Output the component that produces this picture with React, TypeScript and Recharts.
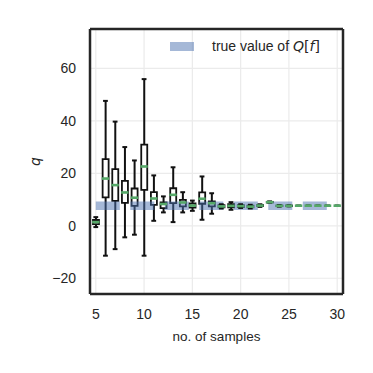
import React from 'react';
import { ComposedChart, Bar, Scatter, Line, XAxis, YAxis, CartesianGrid, Legend } from 'recharts';

// number of samples per estimate
const samples = [5, 6, 7, 8, 9, 10, 11, 12, 13, 14, 15, 16, 17, 18, 19, 20, 21, 22, 23, 24, 25, 26, 27, 28, 29, 30];
const lowerWhisker = [-0.5, -11.4, -8.9, -4.4, -3.4, -11.4, 1.9, 5.1, 1.4, 5.1, 5.7, 2.3, 4.6, 6.6, 6.1, 6.8, 6.6, 7.2, 8.8, 7.3, 7.4, 7.66, 7.66, 7.66, 7.66, 7.66];
const lowerQuartile = [0.6, 10.8, 9.5, 8.7, 7.6, 13.7, 8.0, 6.7, 8.6, 7.4, 6.9, 8.4, 7.4, 7.0, 7.0, 7.1, 7.0, 7.5, 8.9, 7.5, 7.5, 7.66, 7.66, 7.66, 7.66, 7.66];
const medians = [1.4, 18.0, 15.5, 12.7, 10.7, 22.6, 10.4, 8.3, 11.8, 8.9, 7.7, 10.3, 8.6, 7.4, 7.6, 7.5, 7.3, 7.7, 9.0, 7.6, 7.6, 7.66, 7.66, 7.66, 7.66, 7.66];
const upperQuartile = [2.2, 25.4, 21.6, 17.1, 14.2, 30.9, 12.8, 8.9, 14.3, 9.9, 8.5, 12.7, 9.3, 7.9, 8.2, 7.9, 7.7, 7.9, 9.1, 7.7, 7.7, 7.66, 7.66, 7.66, 7.66, 7.66];
const upperWhisker = [3.3, 47.6, 39.7, 30.0, 24.9, 55.9, 19.2, 11.2, 22.3, 12.8, 9.6, 18.8, 12.4, 8.2, 9.0, 8.2, 8.0, 8.2, 9.3, 7.9, 7.8, 7.66, 7.66, 7.66, 7.66, 7.66];

const trueValue = 7.66;
const truthRange = [5, 30];
const xTicks = [5, 10, 15, 20, 25, 30];
const yTicks = [-20, 0, 20, 40, 60];

const data = samples.map((n, i) => ({
  n,
  lo: lowerWhisker[i],
  med: medians[i],
  hi: upperWhisker[i],
  box: [lowerQuartile[i], upperQuartile[i]],
  whisker: [lowerWhisker[i], upperWhisker[i]],
}));

const truth = truthRange.map((n) => ({ n, t: trueValue }));

const FONT = '"Liberation Sans", Arial, sans-serif';
const MATH = '"DejaVu Sans", sans-serif';
const FRAME = '#262626';
const GREEN = '#55a868';

const Cap = (props: any) => {
  const { cx, cy } = props;
  return <line x1={cx - 2.4} x2={cx + 2.4} y1={cy} y2={cy} stroke="#111" strokeWidth={2} />;
};

const Median = (props: any) => {
  const { cx, cy } = props;
  return <line x1={cx - 3.7} x2={cx + 3.7} y1={cy} y2={cy} stroke={GREEN} strokeWidth={2.6} />;
};

const LegendBox = () => (
  <div style={{ display: 'flex', alignItems: 'center', fontFamily: FONT, fontSize: 14, color: '#262626', whiteSpace: 'nowrap' }}>
    <span style={{ display: 'inline-block', width: 24, height: 9, background: '#4c72b0', opacity: 0.5 }} />
    <span style={{ marginLeft: 18 }}>
      true value of{' '}
      <span style={{ fontFamily: MATH }}>
        <i>Q</i>[<i>f</i>]
      </span>
    </span>
  </div>
);

const fmt = (v: number) => (v < 0 ? '\u2212' + Math.abs(v) : String(v));

export default function App() {
  return (
    <div style={{ position: 'absolute', left: 0, top: 0, background: '#fff' }}>
      <ComposedChart width={373} height={373} data={data} margin={{ top: 28, right: 29, bottom: 49, left: 30 }}>
        <CartesianGrid stroke="#ebebeb" strokeWidth={1.2} />
        <XAxis
          dataKey="n"
          type="number"
          domain={[4.4, 30.6]}
          allowDataOverflow
          ticks={xTicks}
          height={30}
          tickLine={false}
          tickMargin={9}
          axisLine={{ stroke: FRAME, strokeWidth: 2.5 }}
          tick={{ fill: '#262626', fontSize: 14, fontFamily: FONT }}
          label={({ viewBox }: any) => (
            <text x={viewBox.x + viewBox.width / 2} y={viewBox.y + 42} textAnchor="middle" dominantBaseline="central" fill="#262626" fontSize={13.5} fontFamily={FONT}>
              no. of samples
            </text>
          )}
        />
        <XAxis
          xAxisId="top"
          dataKey="n"
          type="number"
          orientation="top"
          domain={[4.4, 30.6]}
          allowDataOverflow
          height={1}
          tick={false}
          tickLine={false}
          axisLine={{ stroke: FRAME, strokeWidth: 2.5 }}
        />
        <YAxis
          type="number"
          domain={[-26, 75]}
          allowDataOverflow
          ticks={yTicks}
          width={60}
          tickLine={false}
          tickMargin={8}
          tickFormatter={fmt}
          axisLine={{ stroke: FRAME, strokeWidth: 2.5 }}
          tick={{ fill: '#262626', fontSize: 14, fontFamily: FONT }}
          label={({ viewBox }: any) => {
            const x = viewBox.x + 5;
            const y = viewBox.y + viewBox.height / 2;
            return (
              <text x={x} y={y} transform={`rotate(-90 ${x} ${y})`} textAnchor="middle" dominantBaseline="central" fill="#262626" fontSize={14} fontStyle="italic" fontFamily={MATH}>
                q
              </text>
            );
          }}
        />
        <YAxis
          yAxisId="right"
          orientation="right"
          type="number"
          domain={[-26, 75]}
          allowDataOverflow
          width={1}
          tick={false}
          tickLine={false}
          axisLine={{ stroke: FRAME, strokeWidth: 2.5 }}
        />
        <Bar xAxisId="top" dataKey="whisker" barSize={2} fill="#111" isAnimationActive={false} legendType="none" />
        <Bar dataKey="box" barSize={6} fill="#fff" stroke="#111" strokeWidth={1.8} isAnimationActive={false} legendType="none" />
        <Scatter dataKey="hi" shape={<Cap />} isAnimationActive={false} legendType="none" />
        <Scatter dataKey="lo" shape={<Cap />} isAnimationActive={false} legendType="none" />
        <Line
          data={truth}
          dataKey="t"
          name="true value of Q[f]"
          stroke="#4c72b0"
          strokeOpacity={0.5}
          strokeWidth={8.5}
          strokeDasharray="24 10.5"
          dot={false}
          activeDot={false}
          isAnimationActive={false}
        />
        <Scatter dataKey="med" shape={<Median />} isAnimationActive={false} legendType="none" />
        <Legend
          layout="vertical"
          align="center"
          verticalAlign="middle"
          content={() => <LegendBox />}
          wrapperStyle={{ position: 'absolute', top: 38, left: 170, width: 'auto' }}
        />
      </ComposedChart>
    </div>
  );
}
